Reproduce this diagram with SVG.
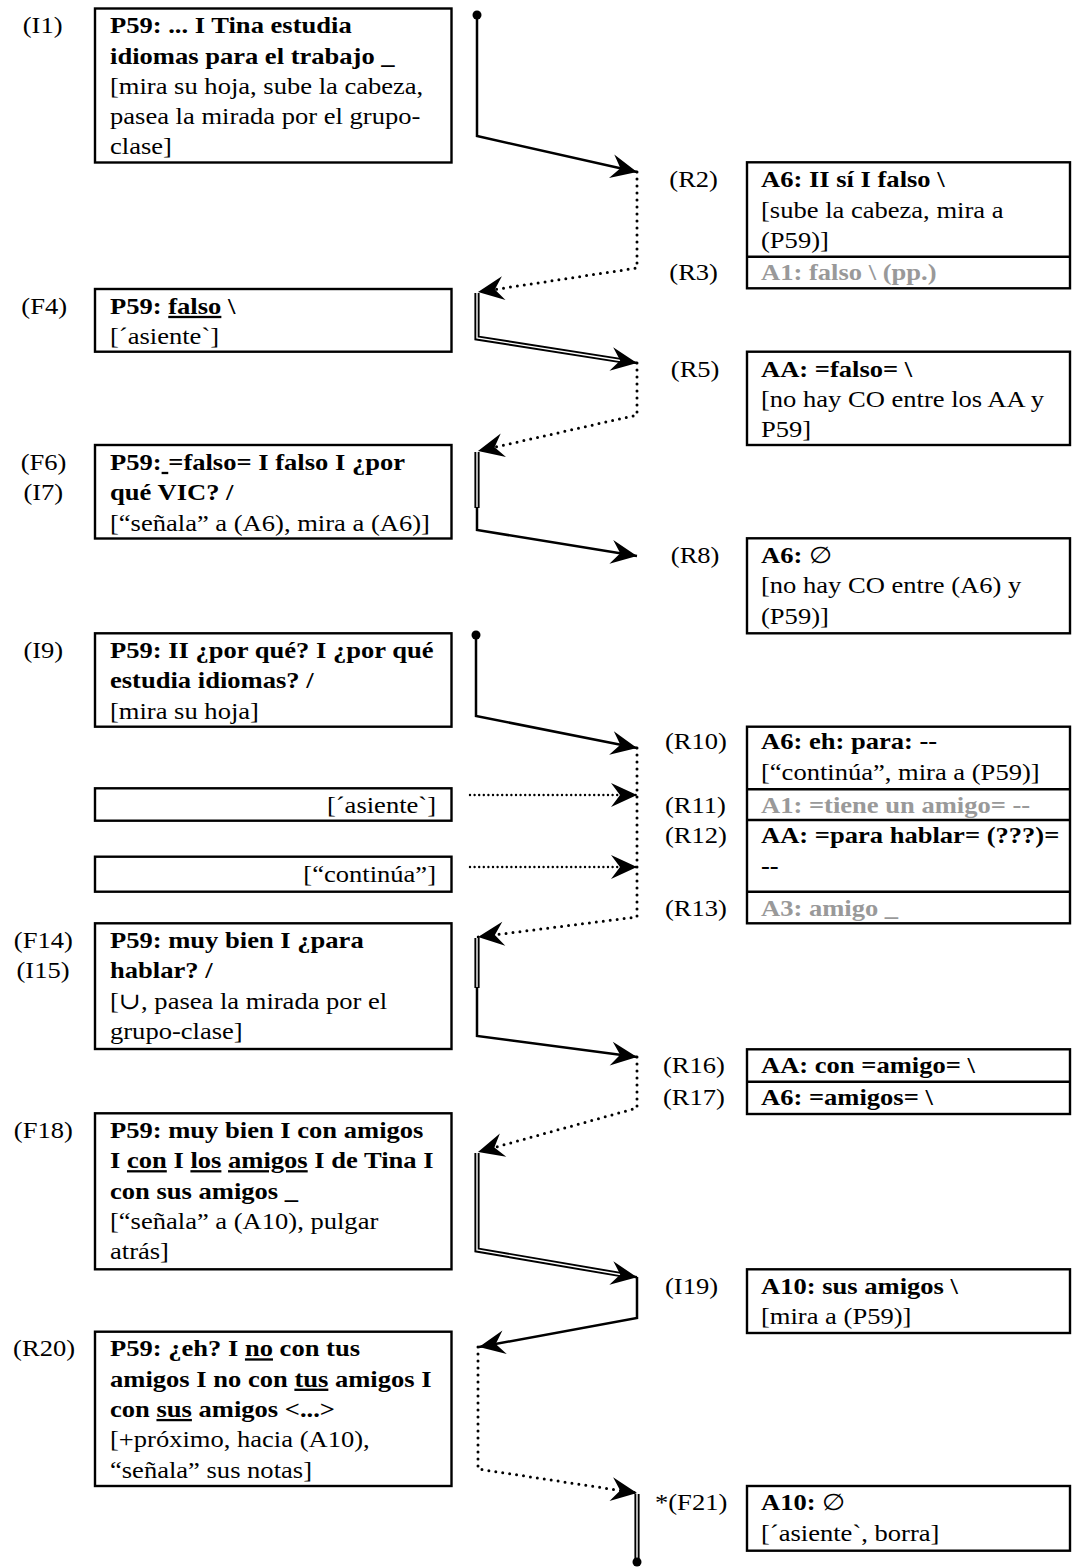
<svg xmlns="http://www.w3.org/2000/svg" width="1072" height="1568" viewBox="0 0 1072 1568">
  <style>
    text { font-family: "Liberation Serif", "Times New Roman", "DejaVu Serif", serif; font-size: 23px; fill: #000; }
    .b { font-weight: bold; }
    .g { fill: #999; }
    .n { font-weight: normal; }
    .u { text-decoration: underline; }
    .box { fill: #fff; stroke: #000; stroke-width: 2.4; }
    .sep { fill: none; stroke: #000; stroke-width: 2.4; }
    .ln { fill: none; stroke: #000; stroke-width: 2.5; stroke-linejoin: miter; }
    .dt { fill: none; stroke: #000; stroke-width: 3; stroke-linecap: round; stroke-dasharray: 0 7; }
    .dth { fill: none; stroke: #000; stroke-width: 2.4; stroke-linecap: round; stroke-dasharray: 0 4.6; }
    .d1 { fill: none; stroke: #000; stroke-width: 5.2; stroke-linejoin: miter; }
    .d2 { fill: none; stroke: #fff; stroke-width: 1.4; stroke-linejoin: miter; }
    .ah { fill: none; stroke: none; }
  </style>
  <defs>
    <marker id="arrow" markerUnits="userSpaceOnUse" markerWidth="40" markerHeight="40" viewBox="-30 -20 40 40" refX="0" refY="0" orient="auto" overflow="visible">
      <path d="M0,0 L-26,-12 L-17,0 L-26,12 Z" fill="#000"/>
    </marker>
  </defs>

  <!-- connectors -->
  <g id="connectors">
    <!-- I1 -> R2 -->
    <circle cx="477" cy="15" r="4.5" fill="#000"/>
    <path class="ln" d="M477,15 V136 L637,172" marker-end="url(#arrow)"/>
    <!-- R2/R3 -> F4 -->
    <path class="dt" d="M637,172 V268 L478,292" marker-end="url(#arrow)"/>
    <!-- F4 -> R5 -->
    <path class="d1" d="M477,293 V338 L622,360.7"/>
    <path class="d2" d="M477,293 V338 L622,360.7"/>
    <path class="ln" d="M621,360.5 L637,363" marker-end="url(#arrow)"/>
    <!-- R5 -> F6 -->
    <path class="dt" d="M637,363 V415 L478,451" marker-end="url(#arrow)"/>
    <!-- F6/I7 -> R8 -->
    <path class="d1" d="M477,452 V508"/>
    <path class="d2" d="M477,452 V508"/>
    <path class="ln" d="M477,507 V530 L637,556" marker-end="url(#arrow)"/>
    <!-- I9 -> R10 -->
    <circle cx="476" cy="635" r="4.5" fill="#000"/>
    <path class="ln" d="M476,635 V716 L637,748" marker-end="url(#arrow)"/>
    <!-- side gestures -> R11 / R12 -->
    <path class="dth" d="M470,795 H637" marker-end="url(#arrow)"/>
    <path class="dth" d="M470,867 H637" marker-end="url(#arrow)"/>
    <!-- R10..R13 -> F14 -->
    <path class="dt" d="M637,748 V917 L478,937" marker-end="url(#arrow)"/>
    <!-- F14/I15 -> R16 -->
    <path class="d1" d="M477,938 V988"/>
    <path class="d2" d="M477,938 V988"/>
    <path class="ln" d="M477,987 V1036 L637,1057" marker-end="url(#arrow)"/>
    <!-- R16/R17 -> F18 -->
    <path class="dt" d="M637,1057 V1108 L478,1152" marker-end="url(#arrow)"/>
    <!-- F18 -> I19 -->
    <path class="d1" d="M477,1153 V1250 L622,1274.8"/>
    <path class="d2" d="M477,1153 V1250 L622,1274.8"/>
    <path class="ln" d="M621,1274.6 L637,1277.3" marker-end="url(#arrow)"/>
    <!-- I19 -> R20 -->
    <path class="ln" d="M637,1277 V1318 L479,1347" marker-end="url(#arrow)"/>
    <!-- R20 -> F21 -->
    <path class="dt" d="M478,1347 V1469 L637,1493" marker-end="url(#arrow)"/>
    <!-- F21 close -->
    <path class="d1" d="M637,1494 V1560"/>
    <path class="d2" d="M637,1494 V1560"/>
    <circle cx="637" cy="1562" r="4.5" fill="#000"/>
  </g>

  <!-- left column -->
  <g id="I1">
    <rect class="box" x="95" y="8.5" width="356.5" height="154"/>
    <text transform="translate(22.7 0) scale(1.155 1)" y="33.3">(I1)</text>
    <g transform="translate(110 0) scale(1.155 1)">
      <text class="b" y="33.3">P59: ... I Tina estudia</text>
      <text class="b" y="63.6">idiomas para el trabajo _</text>
      <text y="93.9">[mira su hoja, sube la cabeza,</text>
      <text y="124.2">pasea la mirada por el grupo-</text>
      <text y="154.5">clase]</text>
    </g>
  </g>

  <g id="F4">
    <rect class="box" x="95" y="289" width="356.5" height="62.7"/>
    <text transform="translate(21.3 0) scale(1.155 1)" y="314">(F4)</text>
    <g transform="translate(110 0) scale(1.155 1)">
      <text class="b" y="314">P59: <tspan class="u">falso</tspan> \</text>
      <text y="344.3">[´asiente`]</text>
    </g>
  </g>

  <g id="F6-I7">
    <rect class="box" x="95" y="445" width="356.5" height="93.5"/>
    <text transform="translate(20.7 0) scale(1.155 1)" y="470">(F6)</text>
    <text transform="translate(23.4 0) scale(1.155 1)" y="500.3">(I7)</text>
    <g transform="translate(110 0) scale(1.155 1)">
      <text class="b" y="470">P59:<tspan class="u"> </tspan>=falso= I falso I ¿por</text>
      <text class="b" y="500.3">qué VIC? /</text>
      <text y="530.6">[“señala” a (A6), mira a (A6)]</text>
    </g>
  </g>

  <g id="I9">
    <rect class="box" x="95" y="633.3" width="356.5" height="93.4"/>
    <text transform="translate(23.4 0) scale(1.155 1)" y="658">(I9)</text>
    <g transform="translate(110 0) scale(1.155 1)">
      <text class="b" y="658">P59: II ¿por qué? I ¿por qué</text>
      <text class="b" y="688.3">estudia idiomas? /</text>
      <text y="718.6">[mira su hoja]</text>
    </g>
  </g>

  <g id="gesture-asiente">
    <rect class="box" x="95" y="788.3" width="356.5" height="32.4"/>
    <text transform="translate(436 0) scale(1.155 1)" y="813" text-anchor="end">[´asiente`]</text>
  </g>

  <g id="gesture-continua">
    <rect class="box" x="95" y="856.7" width="356.5" height="35"/>
    <text transform="translate(436 0) scale(1.155 1)" y="882" text-anchor="end">[“continúa”]</text>
  </g>

  <g id="F14-I15">
    <rect class="box" x="95" y="923.3" width="356.5" height="125.7"/>
    <text transform="translate(13.8 0) scale(1.155 1)" y="948">(F14)</text>
    <text transform="translate(16.5 0) scale(1.155 1)" y="978.3">(I15)</text>
    <g transform="translate(110 0) scale(1.155 1)">
      <text class="b" y="948">P59: muy bien I ¿para</text>
      <text class="b" y="978.3">hablar? /</text>
      <text y="1008.6">[∪, pasea la mirada por el</text>
      <text y="1038.9">grupo-clase]</text>
    </g>
  </g>

  <g id="F18">
    <rect class="box" x="95" y="1113.3" width="356.5" height="156"/>
    <text transform="translate(13.8 0) scale(1.155 1)" y="1138">(F18)</text>
    <g transform="translate(110 0) scale(1.155 1)">
      <text class="b" y="1138">P59: muy bien I con amigos</text>
      <text class="b" y="1168.3">I <tspan class="u">con</tspan> I <tspan class="u">los</tspan> <tspan class="u">amigos</tspan> I de Tina I</text>
      <text class="b" y="1198.6">con sus amigos _</text>
      <text y="1228.9">[“señala” a (A10), pulgar</text>
      <text y="1259.2">atrás]</text>
    </g>
  </g>

  <g id="R20">
    <rect class="box" x="95" y="1331.7" width="356.5" height="154.3"/>
    <text transform="translate(13.1 0) scale(1.155 1)" y="1356.5">(R20)</text>
    <g transform="translate(110 0) scale(1.155 1)">
      <text class="b" y="1356.5">P59: ¿eh? I <tspan class="u">no</tspan> con tus</text>
      <text class="b" y="1386.8">amigos I no con <tspan class="u">tus</tspan> amigos I</text>
      <text class="b" y="1417.1">con <tspan class="u">sus</tspan> amigos &lt;...&gt;</text>
      <text y="1447.4">[+próximo, hacia (A10),</text>
      <text y="1477.7">“señala” sus notas]</text>
    </g>
  </g>

  <!-- right column -->
  <g id="R2-R3">
    <rect class="box" x="747" y="162.3" width="323" height="126"/>
    <line class="sep" x1="747" y1="256.7" x2="1070" y2="256.7"/>
    <text transform="translate(669.3 0) scale(1.155 1)" y="187.3">(R2)</text>
    <text transform="translate(669.3 0) scale(1.155 1)" y="280">(R3)</text>
    <g transform="translate(761 0) scale(1.155 1)">
      <text class="b" y="187.3">A6: II sí I falso \</text>
      <text y="217.6">[sube la cabeza, mira a</text>
      <text y="247.9">(P59)]</text>
      <text class="b g" y="280">A1: falso \ (pp.)</text>
    </g>
  </g>

  <g id="R5">
    <rect class="box" x="747" y="351.7" width="323" height="93.3"/>
    <text transform="translate(670.8 0) scale(1.155 1)" y="376.7">(R5)</text>
    <g transform="translate(761 0) scale(1.155 1)">
      <text class="b" y="376.7">AA: =falso= \</text>
      <text y="407">[no hay CO entre los AA y</text>
      <text y="437.3">P59]</text>
    </g>
  </g>

  <g id="R8">
    <rect class="box" x="747" y="538.3" width="323" height="95"/>
    <text transform="translate(670.8 0) scale(1.155 1)" y="563">(R8)</text>
    <g transform="translate(761 0) scale(1.155 1)">
      <text class="b" y="563">A6: <tspan class="n">∅</tspan></text>
      <text y="593.3">[no hay CO entre (A6) y</text>
      <text y="623.6">(P59)]</text>
    </g>
  </g>

  <g id="R10-R13">
    <rect class="box" x="747" y="726.7" width="323" height="196.6"/>
    <line class="sep" x1="747" y1="789.3" x2="1070" y2="789.3"/>
    <line class="sep" x1="747" y1="820" x2="1070" y2="820"/>
    <line class="sep" x1="747" y1="891.7" x2="1070" y2="891.7"/>
    <text transform="translate(665 0) scale(1.155 1)" y="749.5">(R10)</text>
    <text transform="translate(665 0) scale(1.155 1)" y="813">(R11)</text>
    <text transform="translate(665 0) scale(1.155 1)" y="843.5">(R12)</text>
    <text transform="translate(665 0) scale(1.155 1)" y="916">(R13)</text>
    <g transform="translate(761 0) scale(1.155 1)">
      <text class="b" y="749.5">A6: eh: para: --</text>
      <text y="779.8">[“continúa”, mira a (P59)]</text>
      <text class="b g" y="813">A1: =tiene un amigo= --</text>
      <text class="b" y="843.5">AA: =para hablar= (???)=</text>
      <text class="b" y="874">--</text>
      <text class="b g" y="916">A3: amigo _</text>
    </g>
  </g>

  <g id="R16-R17">
    <rect class="box" x="747" y="1049.3" width="323" height="64.7"/>
    <line class="sep" x1="747" y1="1081.7" x2="1070" y2="1081.7"/>
    <text transform="translate(663 0) scale(1.155 1)" y="1073">(R16)</text>
    <text transform="translate(663 0) scale(1.155 1)" y="1105">(R17)</text>
    <g transform="translate(761 0) scale(1.155 1)">
      <text class="b" y="1073">AA: con =amigo= \</text>
      <text class="b" y="1105">A6: =amigos= \</text>
    </g>
  </g>

  <g id="I19">
    <rect class="box" x="747" y="1269.3" width="323" height="63.7"/>
    <text transform="translate(665 0) scale(1.155 1)" y="1294">(I19)</text>
    <g transform="translate(761 0) scale(1.155 1)">
      <text class="b" y="1294">A10: sus amigos \</text>
      <text y="1324.3">[mira a (P59)]</text>
    </g>
  </g>

  <g id="F21">
    <rect class="box" x="747" y="1486" width="323" height="64.7"/>
    <text transform="translate(655 0) scale(1.155 1)" y="1510.5">*(F21)</text>
    <g transform="translate(761 0) scale(1.155 1)">
      <text class="b" y="1510.5">A10: <tspan class="n">∅</tspan></text>
      <text y="1540.8">[´asiente`, borra]</text>
    </g>
  </g>
</svg>
